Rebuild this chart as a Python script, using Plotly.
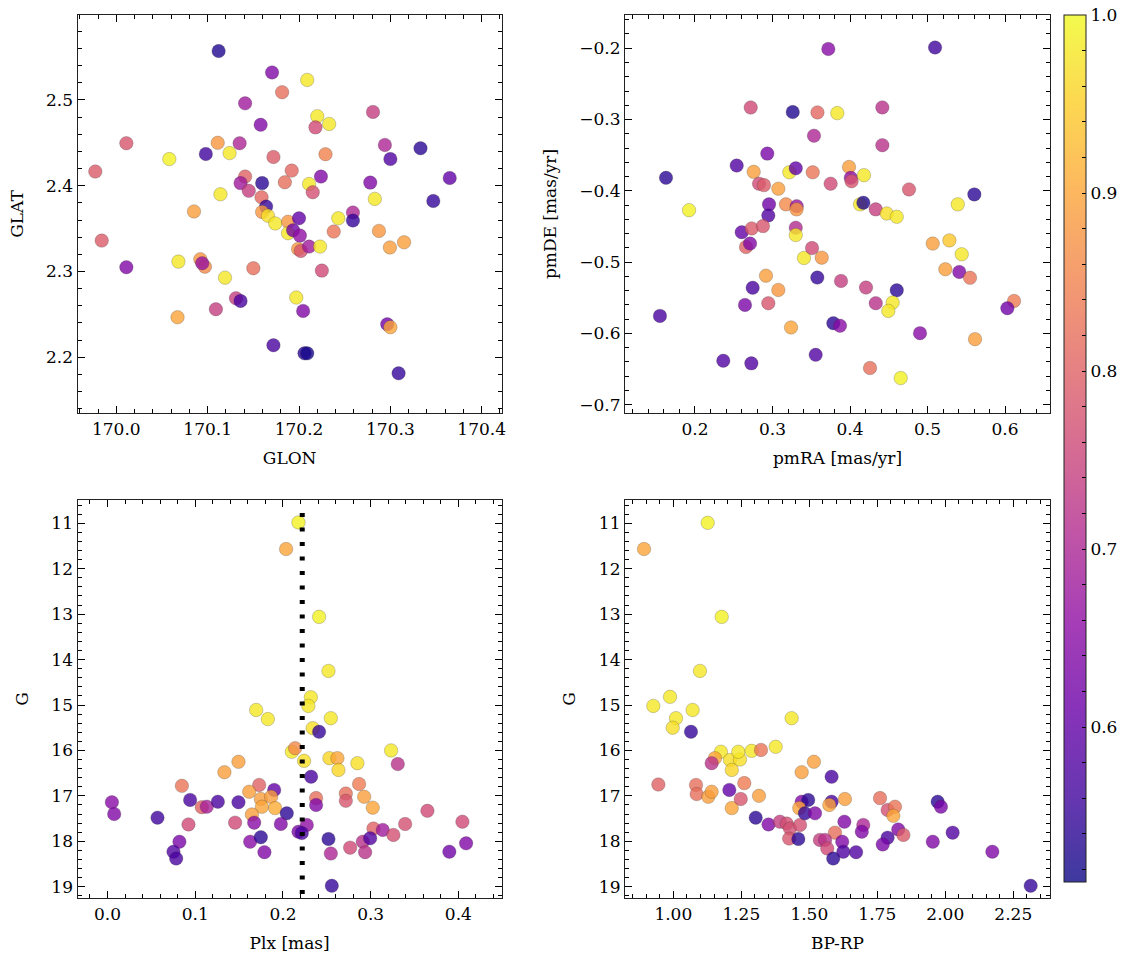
import plotly.graph_objects as go

# ---------------- data ----------------
# Panel 1: sky positions
glon = [170.112, 170.1705, 170.1815, 170.141, 170.158, 170.011, 170.111, 170.135, 170.098, 170.124,
        170.058, 170.172, 169.977, 170.192, 170.141, 170.136, 170.1596, 170.145, 170.1845, 170.114,
        170.159, 170.164, 170.085, 170.1596, 170.166, 170.174, 170.188, 170.188, 170.1935, 169.984,
        170.011, 170.068, 170.092, 170.097, 170.094, 170.119, 170.150, 170.131, 170.136, 170.109,
        170.067, 170.172, 170.209, 170.220, 170.233, 170.218, 170.281, 170.229, 170.294, 170.333,
        170.300, 170.224, 170.211, 170.215, 170.278, 170.365, 170.283, 170.347, 170.200, 170.201,
        170.199, 170.202, 170.211, 170.223, 170.243, 170.259, 170.259, 170.238, 170.2875, 170.2995,
        170.315, 170.225, 170.197, 170.2045, 170.2966, 170.300, 170.206, 170.209, 170.309]
glat = [2.557, 2.532, 2.509, 2.496, 2.471, 2.4495, 2.450, 2.4495, 2.437, 2.438,
        2.431, 2.4335, 2.4165, 2.4176, 2.4106, 2.403, 2.403, 2.394, 2.404, 2.390,
        2.3865, 2.3756, 2.370, 2.3694, 2.365, 2.356, 2.358, 2.3446, 2.348, 2.336,
        2.305, 2.3115, 2.3143, 2.3056, 2.3096, 2.2928, 2.3038, 2.2688, 2.2657, 2.256,
        2.2466, 2.214, 2.5233, 2.481, 2.472, 2.468, 2.486, 2.4367, 2.4475, 2.4437,
        2.431, 2.4106, 2.402, 2.3924, 2.4036, 2.409, 2.3846, 2.3822, 2.362, 2.3418,
        2.3263, 2.324, 2.329, 2.329, 2.362, 2.3687, 2.3593, 2.3465, 2.3473, 2.328,
        2.334, 2.301, 2.2696, 2.254, 2.2385, 2.235, 2.2046, 2.2046, 2.1813]
prob_sky = [0.53, 0.64, 0.82, 0.68, 0.64, 0.78, 0.88, 0.70, 0.56, 0.98,
            0.99, 0.79, 0.79, 0.81, 0.80, 0.68, 0.54, 0.74, 0.82, 0.98,
            0.81, 0.55, 0.89, 0.88, 0.97, 0.98, 0.88, 0.98, 0.62, 0.79,
            0.64, 0.98, 0.88, 0.86, 0.67, 0.98, 0.82, 0.74, 0.57, 0.74,
            0.90, 0.57, 0.98, 0.98, 0.98, 0.76, 0.74, 0.85, 0.70, 0.54,
            0.58, 0.64, 0.98, 0.77, 0.64, 0.60, 0.98, 0.55, 0.60, 0.66,
            0.88, 0.78, 0.68, 0.98, 0.98, 0.70, 0.55, 0.83, 0.88, 0.89,
            0.89, 0.76, 0.98, 0.64, 0.62, 0.90, 0.54, 0.52, 0.55]

# Panel 2: proper motions
pmra = [0.2719, 0.3261, 0.358, 0.3535, 0.2933, 0.2538, 0.1626, 0.2757, 0.3217, 0.330,
        0.3519, 0.2826, 0.289, 0.3075, 0.2955, 0.3174, 0.3312, 0.331, 0.2946, 0.1923,
        0.2603, 0.2732, 0.2877, 0.330, 0.330, 0.2658, 0.271, 0.3406, 0.351, 0.3635,
        0.3578, 0.2916, 0.2744, 0.3075, 0.2645, 0.2946, 0.1548, 0.3239, 0.3557, 0.2365,
        0.2727, 0.372, 0.5097, 0.3836, 0.4417, 0.4417, 0.3987, 0.401, 0.402, 0.418,
        0.375, 0.4761, 0.4129, 0.4172, 0.4332, 0.4474, 0.4603, 0.539, 0.5604, 0.5067,
        0.5282, 0.5441, 0.523, 0.541, 0.5548, 0.3884, 0.4206, 0.4603, 0.4332, 0.455,
        0.4494, 0.3785, 0.3871, 0.4903, 0.6116, 0.603, 0.5613, 0.4258, 0.4654]
pmde = [-0.2831, -0.2895, -0.290, -0.3227, -0.3478, -0.3646, -0.3818, -0.3734, -0.374, -0.3684,
        -0.374, -0.390, -0.392, -0.397, -0.419, -0.419, -0.4215, -0.426, -0.4345, -0.4271,
        -0.458, -0.4527, -0.4495, -0.4517, -0.462, -0.4788, -0.474, -0.4942, -0.4803, -0.4937,
        -0.5217, -0.519, -0.536, -0.539, -0.560, -0.5576, -0.5754, -0.5916, -0.630, -0.6383,
        -0.642, -0.201, -0.199, -0.291, -0.283, -0.336, -0.3665, -0.3818, -0.3866, -0.378,
        -0.390, -0.398, -0.419, -0.4168, -0.426, -0.4318, -0.4364, -0.419, -0.405, -0.474,
        -0.4695, -0.489, -0.510, -0.5138, -0.522, -0.5264, -0.5357, -0.5395, -0.5576, -0.5567,
        -0.5684, -0.5856, -0.5893, -0.5996, -0.5544, -0.5646, -0.608, -0.6485, -0.6626]
prob_pm = [0.76, 0.53, 0.81, 0.70, 0.63, 0.58, 0.54, 0.89, 0.98, 0.60,
           0.83, 0.76, 0.79, 0.89, 0.62, 0.86, 0.67, 0.88, 0.58, 0.99,
           0.60, 0.79, 0.78, 0.71, 0.98, 0.80, 0.64, 0.98, 0.76, 0.88,
           0.55, 0.89, 0.57, 0.88, 0.63, 0.78, 0.57, 0.90, 0.58, 0.58,
           0.58, 0.65, 0.56, 0.98, 0.72, 0.72, 0.89, 0.66, 0.78, 0.98,
           0.76, 0.78, 0.98, 0.53, 0.74, 0.97, 0.98, 0.98, 0.54, 0.89,
           0.94, 0.98, 0.89, 0.64, 0.83, 0.74, 0.74, 0.54, 0.72, 0.98,
           0.98, 0.54, 0.65, 0.65, 0.84, 0.62, 0.89, 0.82, 0.99]

# Panel 3: parallax vs G
plx = [0.2036, 0.1695, 0.1828, 0.2101, 0.2139, 0.1493, 0.1333, 0.0848, 0.1729, 0.1615,
       0.19, 0.1748, 0.1865, 0.176, 0.1911, 0.005, 0.0076, 0.0942, 0.1075, 0.1132,
       0.1258, 0.1493, 0.057, 0.0923, 0.1455, 0.1646, 0.1672, 0.2044, 0.1976, 0.082,
       0.0752, 0.0783, 0.1626, 0.1748, 0.1789, 0.2177, 0.2412, 0.2519, 0.2318, 0.229,
       0.2546, 0.234, 0.2412, 0.2241, 0.253, 0.2621, 0.2633, 0.2849, 0.3233, 0.3309,
       0.2321, 0.2868, 0.2717, 0.2926, 0.2717, 0.2378, 0.2378, 0.3024, 0.3647, 0.4046,
       0.3393, 0.2272, 0.3032, 0.3138, 0.3259, 0.2177, 0.2215, 0.2519, 0.291, 0.2994,
       0.2546, 0.2766, 0.2937, 0.3897, 0.4088, 0.2557]
g_plx = [11.566, 15.11, 15.31, 16.03, 15.95, 16.25, 16.48, 16.78, 16.76, 16.91,
         16.87, 17.07, 17.02, 17.24, 17.27, 17.14, 17.40, 17.09, 17.25, 17.24,
         17.13, 17.14, 17.48, 17.63, 17.59, 17.41, 17.59, 17.385, 17.62, 18.01,
         18.23, 18.38, 18.01, 17.91, 18.24, 10.98, 13.06, 14.25, 14.83, 15.02,
         15.29, 15.51, 15.59, 16.23, 16.17, 16.17, 16.43, 16.28, 16.0, 16.30,
         16.58, 16.74, 16.95, 17.02, 17.11, 17.05, 17.20, 17.26, 17.33, 17.57,
         17.62, 17.64, 17.72, 17.75, 17.86, 17.79, 17.82, 17.95, 18.01, 17.935,
         18.27, 18.14, 18.24, 18.23, 18.045, 18.98]
prob_plx = [0.90, 0.98, 0.98, 0.98, 0.86, 0.89, 0.89, 0.83, 0.80, 0.89,
            0.60, 0.89, 0.89, 0.90, 0.91, 0.65, 0.64, 0.57, 0.80, 0.69,
            0.57, 0.57, 0.56, 0.76, 0.76, 0.89, 0.65, 0.54, 0.64, 0.63,
            0.58, 0.57, 0.65, 0.54, 0.64, 0.99, 0.99, 0.98, 0.98, 0.98,
            0.98, 0.97, 0.55, 0.97, 0.96, 0.90, 0.96, 0.97, 0.98, 0.72,
            0.57, 0.84, 0.82, 0.89, 0.78, 0.82, 0.64, 0.90, 0.76, 0.76,
            0.77, 0.66, 0.80, 0.68, 0.77, 0.63, 0.57, 0.54, 0.72, 0.58,
            0.70, 0.76, 0.72, 0.62, 0.64, 0.55]
plx_ref = 0.222

# Panel 4: colour-magnitude diagram
bprp = [0.8923, 1.1265, 1.178, 1.098, 0.9265, 0.988, 1.0099, 0.9978, 1.071, 1.065,
        1.435, 1.175, 1.153, 1.141, 1.2085, 1.215, 1.245, 1.239, 1.288, 1.3224,
        1.3765, 0.945, 1.0835, 1.086, 1.1287, 1.141, 1.206, 1.215, 1.248, 1.261,
        1.315, 1.472, 1.517, 1.303, 1.350, 1.392, 1.417, 1.429, 1.426, 1.466,
        1.4596, 1.472, 1.496, 1.463, 1.484, 1.521, 1.539, 1.582, 1.582, 1.5735,
        1.631, 1.629, 1.6985, 1.693, 1.5945, 1.558, 1.566, 1.621, 1.625, 1.672,
        1.588, 1.760, 1.788, 1.815, 1.809, 1.827, 1.846, 1.788, 1.770, 1.972,
        1.984, 1.954, 2.027, 2.173, 2.314]
g_cmd = [11.566, 10.99, 13.06, 14.25, 15.02, 14.82, 15.29, 15.50, 15.11, 15.59,
         15.29, 16.03, 16.17, 16.28, 16.21, 16.43, 16.20, 16.03, 16.01, 15.99,
         15.92, 16.75, 16.76, 16.96, 17.02, 16.91, 16.87, 17.27, 17.07, 16.72,
         17.0, 16.48, 16.25, 17.48, 17.63, 17.57, 17.61, 17.72, 17.94, 17.64,
         17.95, 17.13, 17.09, 17.27, 17.385, 17.385, 17.97, 16.58, 17.13, 17.20,
         17.07, 17.57, 17.64, 17.79, 17.81, 17.97, 18.16, 18.01, 18.23, 18.24,
         18.38, 17.05, 17.31, 17.24, 17.44, 17.74, 17.86, 17.92, 18.07, 17.13,
         17.24, 18.01, 17.81, 18.23, 18.98]
prob_cmd = [0.90, 0.99, 0.99, 0.98, 0.98, 0.98, 0.98, 0.97, 0.98, 0.55,
            0.98, 0.98, 0.90, 0.72, 0.97, 0.96, 0.97, 0.98, 0.98, 0.83,
            0.98, 0.80, 0.82, 0.82, 0.89, 0.89, 0.60, 0.90, 0.78, 0.84,
            0.89, 0.89, 0.89, 0.54, 0.64, 0.74, 0.77, 0.77, 0.78, 0.77,
            0.54, 0.64, 0.54, 0.90, 0.55, 0.64, 0.74, 0.57, 0.57, 0.90,
            0.89, 0.64, 0.70, 0.64, 0.82, 0.72, 0.76, 0.64, 0.58, 0.58,
            0.54, 0.82, 0.77, 0.83, 0.90, 0.64, 0.79, 0.57, 0.63, 0.54,
            0.63, 0.64, 0.58, 0.64, 0.55]

# colorbar ticks
cbar_ticks = [0.52, 0.54, 0.56, 0.58, 0.6, 0.62, 0.64, 0.66, 0.68, 0.7,
              0.72, 0.74, 0.76, 0.78, 0.8, 0.82, 0.84, 0.86, 0.88, 0.9,
              0.92, 0.94, 0.96, 0.98, 1.0]
cbar_labels = ["", "", "", "", "0.6", "", "", "", "", "0.7",
               "", "", "", "", "0.8", "", "", "", "", "0.9",
               "", "", "", "", "1.0"]

# ---------------- styling ----------------
W, H = 1133, 965
FONT = "DejaVu Serif"
FS = 17
ALPHA = 0.8
plasma = ["#0d0887", "#41049d", "#6a00a8", "#8f0da4", "#b12a90", "#cc4778",
          "#e16462", "#f2844b", "#fca636", "#fcce25", "#f0f921"]


def rgba(h, a):
    h = h.lstrip("#")
    return "rgba(%d,%d,%d,%.2f)" % (int(h[0:2], 16), int(h[2:4], 16), int(h[4:6], 16), a)


cscale = [[i / (len(plasma) - 1), rgba(c, ALPHA)] for i, c in enumerate(plasma)]
CMIN, CMAX = 0.513, 1.0


def xdom(a, b):
    return [a / W, b / W]


def ydom(top, bottom):
    return [1 - bottom / H, 1 - top / H]


XL, XR = xdom(77.5, 501.8), xdom(625, 1050)
YT, YB = ydom(15, 413), ydom(500, 898)

fig = go.Figure()
panels = [
    (glon, glat, prob_sky, "x", "y"),
    (pmra, pmde, prob_pm, "x2", "y2"),
    (plx, g_plx, prob_plx, "x3", "y3"),
    (bprp, g_cmd, prob_cmd, "x4", "y4"),
]
for xs, ys, ps, xa, ya in panels:
    fig.add_trace(go.Scatter(
        x=xs, y=ys, mode="markers", xaxis=xa, yaxis=ya, showlegend=False,
        marker=dict(size=13.5, color=ps, coloraxis="coloraxis",
                    line=dict(width=0.5, color="rgba(40,40,40,0.45)")),
    ))

fig.add_shape(type="line", xref="x3", yref="y3 domain", x0=plx_ref, x1=plx_ref, y0=0.01, y1=0.985,
              line=dict(color="black", width=5, dash="4px,10.5px"), layer="above")


def ax(domain, anchor, rng, dtick, mdtick, title, fmt, tick0=0, standoff=14):
    return dict(
        domain=domain, anchor=anchor, range=rng, dtick=dtick, tick0=tick0, automargin=False,
        tickformat=fmt, ticks="inside", ticklen=7, tickwidth=1, tickcolor="black",
        minor=dict(ticks="inside", dtick=mdtick, tick0=tick0, ticklen=4, tickwidth=1, tickcolor="black"),
        showline=True, linecolor="#222", linewidth=1.2, mirror="allticks",
        showgrid=False, zeroline=False,
        title=dict(text=title, standoff=standoff, font=dict(family=FONT, size=FS, color="black")),
        tickfont=dict(family=FONT, size=FS, color="black"),
    )


fig.update_layout(
    width=W, height=H, margin=dict(l=0, r=0, t=0, b=0, autoexpand=False),
    paper_bgcolor="white", plot_bgcolor="white",
    font=dict(family=FONT, size=FS, color="black"),
    xaxis=ax(XL, "y", [169.9575, 170.422], 0.1, 0.02, "GLON", ".1f"),
    yaxis=ax(YT, "x", [2.135, 2.599], 0.1, 0.02, "GLAT", ".1f", standoff=18),
    xaxis2=ax(XR, "y2", [0.1097, 0.658], 0.1, 0.02, "pmRA [mas/yr]", ".1f"),
    yaxis2=ax(YT, "x2", [-0.7116, -0.1534], 0.1, 0.02, "pmDE [mas/yr]", ".1f", standoff=18),
    xaxis3=ax(XL, "y3", [-0.0342, 0.4495], 0.1, 0.02, "Plx [mas]", ".1f"),
    yaxis3=ax(YB, "x3", [19.249, 10.487], 1, 0.2, "G", "d", standoff=18),
    xaxis4=ax(XR, "y4", [0.8224, 2.385], 0.25, 0.05, "BP-RP", ".2f", tick0=1.0),
    yaxis4=ax(YB, "x4", [19.249, 10.487], 1, 0.2, "G", "d", standoff=18),
    coloraxis=dict(
        colorscale=cscale, cmin=CMIN, cmax=CMAX,
        colorbar=dict(
            x=1064 / W, xanchor="left", y=1 - 15 / H, yanchor="top",
            xpad=0, ypad=0,
            len=867 / H, lenmode="fraction", thickness=22, thicknessmode="pixels",
            outlinecolor="#222", outlinewidth=1,
            tickmode="array", tickvals=cbar_ticks, ticktext=cbar_labels,
            ticklabeloverflow="allow",
            ticks="inside", ticklen=4, tickcolor="black",
            tickfont=dict(family=FONT, size=FS, color="black"),
        ),
    ),
)

fig.write_html("out.html", config={"displayModeBar": False},
               post_script="document.body.style.margin='0';document.body.style.overflow='hidden';")
